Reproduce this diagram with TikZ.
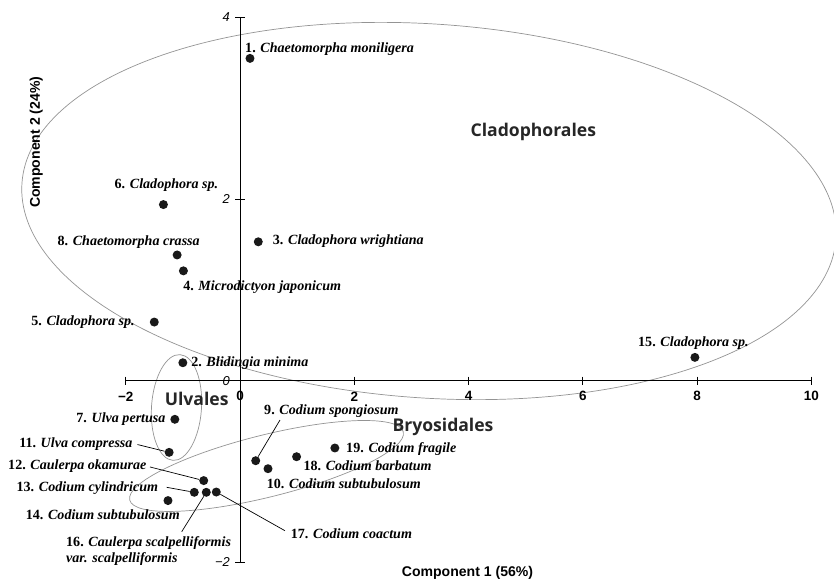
\documentclass[tikz,border=0pt]{standalone}
\usepackage{fontspec}
\setmainfont{Liberation Serif}
\setsansfont{Liberation Sans}
\newfontfamily\grpfont{Open Sans}
\usetikzlibrary{positioning}

\newcommand{\taxon}[2]{#1. \textit{#2}}

\tikzset{
  dot/.style={circle,fill=black!90,inner sep=0pt,minimum size=0.27cm},
  lbl/.style={inner sep=0pt,font=\fontsize{12}{13.5}\selectfont\bfseries},
  grp/.style={inner sep=0pt,text=black!85,font=\grpfont\fontsize{15}{17}\selectfont\bfseries},
  ring/.style={draw=black!42,line width=0.6pt},
  leader/.style={draw,line width=0.6pt},
  axis/.style={line width=0.8pt},
  xtick/.style={inner sep=0pt,font=\sffamily\bfseries\fontsize{11.5}{13}\selectfont},
  ytick/.style={inner sep=0pt,anchor=east,font=\sffamily\itshape\fontsize{11}{13}\selectfont},
  axtitle/.style={inner sep=0pt,font=\sffamily\bfseries\fontsize{12}{14}\selectfont},
}

\begin{document}
\begin{tikzpicture}[x=1.7145cm,y=2.724cm]
  \useasboundingbox (-4.1995,-2.228) rectangle (10.394,4.193);

  % groups
  \draw[ring,rotate around={-3.9:(3.307,1.869)}] (3.307,1.869) ellipse [x radius=12.24cm,y radius=5.61cm];
  \draw[ring,rotate around={-3.8:(-1.111,-0.295)}] (-1.111,-0.295) ellipse [x radius=0.75cm,y radius=1.59cm];
  \draw[ring,rotate around={14:(0.464,-0.939)}] (0.464,-0.939) ellipse [x radius=4.23cm,y radius=0.93cm];

  % axes
  \draw[axis] (-2,0) -- (10,0);
  \draw[axis] (0,-2) -- (0,4);
  \foreach \t/\s in {-2/{−2},0/0,2/2,4/4,6/6,8/8,10/10} {
    \draw[axis] (\t,0.045) -- (\t,-0.045);
    \node[xtick] at (\t,-0.172) {\s};
  }
  \foreach \t/\s in {-2/{−2},0/0,2/2,4/4} {
    \draw[axis] (0.079,\t) -- (-0.079,\t);
    \node[ytick] at (-0.175,\t) {\s};
  }
  \node[axtitle] (xtitle) at (3.981,-2.118) {Component 1 (56\%)};
  \node[axtitle,rotate=90] (ytitle) at (-3.564,2.626) {Component 2 (24\%)};

  \node[grp] (cladophorales) at (5.133,2.742) {Cladophorales};
  \node[grp] (ulvales) at (-0.758,-0.205) {Ulvales};
  \node[grp] (bryosidales) at (3.552,-0.507) {Bryosidales};

  % species
  \node[dot] (p1) at (0.175,3.55) {};
  \node[dot] (p2) at (-1.00,0.198) {};
  \node[dot] (p3) at (0.32,1.53) {};
  \node[dot] (p4) at (-0.99,1.21) {};
  \node[dot] (p5) at (-1.50,0.646) {};
  \node[dot] (p6) at (-1.34,1.94) {};
  \node[dot] (p7) at (-1.14,-0.425) {};
  \node[dot] (p8) at (-1.10,1.385) {};
  \node[dot] (p9) at (0.275,-0.881) {};
  \node[dot] (p10) at (0.49,-0.969) {};
  \node[dot] (p11) at (-1.24,-0.789) {};
  \node[dot] (p12) at (-0.635,-1.10) {};
  \node[dot] (p13) at (-0.80,-1.229) {};
  \node[dot] (p14) at (-1.26,-1.32) {};
  \node[dot] (p15) at (7.96,0.257) {};
  \node[dot] (p16) at (-0.59,-1.229) {};
  \node[dot] (p17) at (-0.415,-1.226) {};
  \node[dot] (p18) at (0.99,-0.837) {};
  \node[dot] (p19) at (1.66,-0.741) {};

  \node[lbl,anchor=west] (l1) at (0.0875,3.653) {\taxon{1}{Chaetomorpha moniligera}};
  \node[lbl,anchor=west] (l2) at (-0.857,0.192) {\taxon{2}{Blidingia minima}};
  \node[lbl,anchor=west] (l3) at (0.572,1.535) {\taxon{3}{Cladophora wrightiana}};
  \node[lbl,anchor=west] (l4) at (-0.997,1.035) {\taxon{4}{Microdictyon japonicum}};
  \node[lbl,anchor=east] (l5) at (-1.837,0.646) {\taxon{5}{Cladophora sp.}};
  \node[lbl] (l6) at (-1.287,2.155) {\taxon{6}{Cladophora sp.}};
  \node[lbl,anchor=east] (l7) at (-1.300,-0.425) {\taxon{7}{Ulva pertusa}};
  \node[lbl,anchor=east] (l8) at (-0.700,1.524) {\taxon{8}{Chaetomorpha crassa}};
  \node[lbl,anchor=west] (l9) at (0.42,-0.33) {\taxon{9}{Codium spongiosum}};
  \node[lbl,anchor=west] (l10) at (0.467,-1.130) {\taxon{10}{Codium subtubulosum}};
  \node[lbl,anchor=east] (l11) at (-1.877,-0.697) {\taxon{11}{Ulva compressa}};
  \node[lbl,anchor=east] (l12) at (-1.632,-0.939) {\taxon{12}{Caulerpa okamurae}};
  \node[lbl,anchor=east] (l13) at (-1.430,-1.185) {\taxon{13}{Codium cylindricum}};
  \node[lbl,anchor=east] (l14) at (-1.050,-1.479) {\taxon{14}{Codium subtubulosum}};
  \node[lbl] (l15) at (7.935,0.418) {\taxon{15}{Cladophora sp.}};
  \node[lbl,anchor=west,align=left] (l16) at (-3.045,-1.873) {\taxon{16}{Caulerpa scalpelliformis}\\\textit{var. scalpelliformis}};
  \node[lbl,anchor=west] (l17) at (0.887,-1.681) {\taxon{17}{Codium coactum}};
  \node[lbl,anchor=west] (l18) at (1.108,-0.939) {\taxon{18}{Codium barbatum}};
  \node[lbl,anchor=west] (l19) at (1.855,-0.755) {\taxon{19}{Codium fragile}};

  % leaders
  \coordinate (c9) at (0.700,-0.433);
  \coordinate (c11) at (-1.794,-0.703);
  \coordinate (c12) at (-1.575,-0.950);
  \coordinate (c13) at (-1.283,-1.174);
  \coordinate (c16) at (-1.020,-1.663);
  \coordinate (c17) at (0.787,-1.652);
  \draw[leader] (c9) -- (p9);
  \draw[leader] (c11) -- (p11);
  \draw[leader] (c12) -- (p12);
  \draw[leader] (c13) -- (p13);
  \draw[leader] (c16) -- (p16);
  \draw[leader] (p17) -- (c17);
\end{tikzpicture}
\end{document}
